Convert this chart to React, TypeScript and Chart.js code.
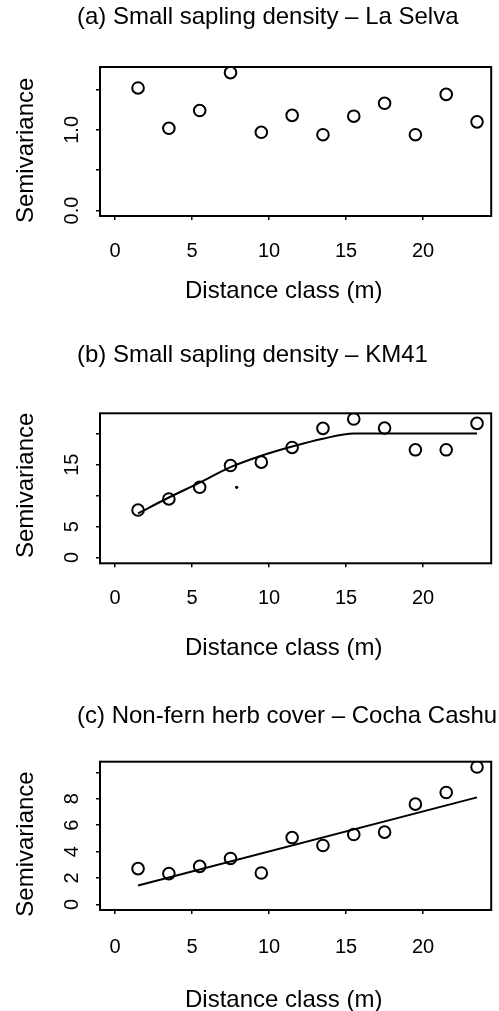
import React, { useEffect, useRef } from "react";
import { Chart, registerables } from "chart.js";
Chart.register(...registerables);

// ---- data ----
const distanceClass = [1.5, 3.5, 5.5, 7.5, 9.5, 11.5, 13.5, 15.5, 17.5, 19.5, 21.5, 23.5];
const semivarA = [1.52, 1.02, 1.24, 1.71, 0.97, 1.18, 0.94, 1.17, 1.33, 0.94, 1.44, 1.1];
const semivarB = [7.67, 9.46, 11.35, 14.86, 15.41, 17.78, 20.86, 22.38, 20.92, 17.4, 17.4, 21.67];
const semivarC = [2.71, 2.33, 2.88, 3.48, 2.38, 5.06, 4.46, 5.29, 5.47, 7.59, 8.47, 10.4];
const modelDistB = [1.5, 3.5, 5.5, 7.5, 9.5, 11.5, 13.5, 15.5, 23.5];
const modelB = [7.14, 9.7, 12.1, 14.6, 16.45, 17.94, 19.2, 20.05, 20.05];
const modelDistC = [1.5, 23.5];
const modelC = [1.43, 8.1];
const strayDotXB = [7.9];
const strayDotYB = [11.35];
const xTicks = [0, 5, 10, 15, 20];
const xTickLabels = ["0", "5", "10", "15", "20"];
const yTicksA = [0, 0.5, 1.0, 1.5];
const yTickLabelsA = ["0.0", "", "1.0", ""];
const yTicksB = [0, 5, 10, 15, 20];
const yTickLabelsB = ["0", "5", "", "15", ""];
const yTicksC = [0, 2, 4, 6, 8, 10];
const yTickLabelsC = ["0", "2", "4", "6", "8", ""];
const titles = [
  "(a) Small sapling density \u2013 La Selva",
  "(b) Small sapling density \u2013 KM41",
  "(c) Non-fern herb cover \u2013 Cocha Cashu",
];
const xAxisLabel = "Distance class (m)";
const yAxisLabel = "Semivariance";

const FONT = '"Liberation Sans", Arial, Helvetica, sans-serif';

const toXY = (xs: number[], ys: number[]) => xs.map((x, i) => ({ x, y: ys[i] }));

const decorPlugin = {
  id: "panelDecor",
  afterDraw(chart: any, _args: any, opts: any) {
    const { ctx, chartArea } = chart;
    ctx.save();
    ctx.strokeStyle = "#000";
    ctx.lineWidth = 2;
    ctx.strokeRect(chartArea.left, chartArea.top, chartArea.right - chartArea.left, chartArea.bottom - chartArea.top);
    ctx.fillStyle = "#000";
    ctx.font = `24px ${FONT}`;
    ctx.textBaseline = "alphabetic";
    ctx.textAlign = "left";
    ctx.fillText(opts.title, opts.titleX, opts.titleY);
    ctx.fillText(opts.xLabel, opts.xLabelX, opts.xLabelY);
    ctx.translate(opts.yLabelX, opts.yLabelY);
    ctx.rotate(-Math.PI / 2);
    ctx.fillText(opts.yLabel, 0, 0);
    ctx.restore();
  },
};

type PanelSpec = {
  height: number;
  top: number;
  bottom: number;
  yMin: number;
  yMax: number;
  yTicks: number[];
  yTickLabels: string[];
  yPad: number;
  xPad: number;
  datasets: any[];
  title: string;
  titleY: number;
  xLabelY: number;
  yLabelY: number;
};

function Panel({ spec }: { spec: PanelSpec }) {
  const ref = useRef<HTMLCanvasElement | null>(null);
  useEffect(() => {
    if (!ref.current) return;
    const chart = new Chart(ref.current, {
      type: "scatter",
      data: { datasets: spec.datasets },
      plugins: [decorPlugin],
      options: {
        animation: false,
        responsive: false,
        devicePixelRatio: 1,
        layout: { padding: { top: spec.top, right: 4, left: 0, bottom: 0 } },
        plugins: {
          legend: { display: false },
          tooltip: { enabled: false },
          title: { display: false },
          panelDecor: {
            title: spec.title,
            titleX: 77,
            titleY: spec.titleY,
            xLabel: xAxisLabel,
            xLabelX: 185,
            xLabelY: spec.xLabelY,
            yLabel: yAxisLabel,
            yLabelX: 32.7,
            yLabelY: spec.yLabelY,
          },
        } as any,
        scales: {
          x: {
            type: "linear",
            min: -0.97,
            max: 24.42,
            afterBuildTicks: (s: any) => {
              s.ticks = xTicks.map((v) => ({ value: v }));
            },
            afterFit: (s: any) => {
              s.height = spec.height - spec.bottom;
            },
            grid: { drawOnChartArea: false, drawTicks: true, tickLength: 4, color: "#000", lineWidth: 1.5 },
            border: { display: false },
            ticks: {
              autoSkip: false,
              maxRotation: 0,
              minRotation: 0,
              padding: spec.xPad,
              color: "#000",
              font: { size: 20, family: FONT },
              callback: (v: any) => {
                const i = xTicks.indexOf(Number(v));
                return i >= 0 ? xTickLabels[i] : "";
              },
            },
          },
          y: {
            type: "linear",
            min: spec.yMin,
            max: spec.yMax,
            afterBuildTicks: (s: any) => {
              s.ticks = spec.yTicks.map((v) => ({ value: v }));
            },
            afterFit: (s: any) => {
              s.width = 100;
            },
            grid: { drawOnChartArea: false, drawTicks: true, tickLength: 4, color: "#000", lineWidth: 1.5 },
            border: { display: false },
            ticks: {
              autoSkip: false,
              minRotation: 90,
              maxRotation: 90,
              crossAlign: "center",
              padding: spec.yPad,
              color: "#000",
              font: { size: 20, family: FONT },
              callback: (v: any) => {
                const i = spec.yTicks.indexOf(Number(v));
                return i >= 0 ? spec.yTickLabels[i] : "";
              },
            },
          },
        },
      } as any,
    });
    return () => chart.destroy();
  }, [spec]);
  return <canvas ref={ref} width={499} height={spec.height} style={{ display: "block" }} />;
}

const pointStyle = {
  showLine: false,
  pointRadius: 5.8,
  pointBorderWidth: 2,
  pointBackgroundColor: "rgba(0,0,0,0)",
  pointBorderColor: "#000",
  borderColor: "#000",
  backgroundColor: "rgba(0,0,0,0)",
};
const lineStyle = {
  showLine: true,
  pointRadius: 0,
  borderColor: "#000",
  borderWidth: 2,
  backgroundColor: "rgba(0,0,0,0)",
};

const panels: PanelSpec[] = [
  {
    height: 320,
    top: 67,
    bottom: 216,
    yMin: -0.068,
    yMax: 1.78,
    yTicks: yTicksA,
    yTickLabels: yTickLabelsA,
    yPad: 9.6,
    xPad: 19.7,
    datasets: [{ label: "La Selva", data: toXY(distanceClass, semivarA), ...pointStyle }],
    title: titles[0],
    titleY: 24,
    xLabelY: 297.7,
    yLabelY: 223,
  },
  {
    height: 340,
    top: 93.3,
    bottom: 243.3,
    yMin: -0.93,
    yMax: 23.3,
    yTicks: yTicksB,
    yTickLabels: yTickLabelsB,
    yPad: 12.4,
    xPad: 19.5,
    datasets: [
      { label: "model", data: toXY(modelDistB, modelB), ...lineStyle, cubicInterpolationMode: "monotone" },
      { label: "KM41", data: toXY(distanceClass, semivarB), ...pointStyle },
      {
        label: "dot",
        data: toXY(strayDotXB, strayDotYB),
        showLine: false,
        pointRadius: 1.6,
        pointBorderWidth: 0,
        pointBackgroundColor: "#000",
      },
    ],
    title: titles[1],
    titleY: 41.7,
    xLabelY: 335,
    yLabelY: 238,
  },
  {
    height: 351,
    top: 101.7,
    bottom: 250,
    yMin: -0.42,
    yMax: 10.8,
    yTicks: yTicksC,
    yTickLabels: yTickLabelsC,
    yPad: 17.9,
    xPad: 21,
    datasets: [
      { label: "model", data: toXY(modelDistC, modelC), ...lineStyle },
      { label: "Cocha Cashu", data: toXY(distanceClass, semivarC), ...pointStyle },
    ],
    title: titles[2],
    titleY: 63.3,
    xLabelY: 346.7,
    yLabelY: 256.7,
  },
];

export default function App() {
  return (
    <div style={{ position: "absolute", top: 0, left: 0, width: 499, height: 1011, background: "#fff" }}>
      {panels.map((p, i) => (
        <Panel key={i} spec={p} />
      ))}
    </div>
  );
}
